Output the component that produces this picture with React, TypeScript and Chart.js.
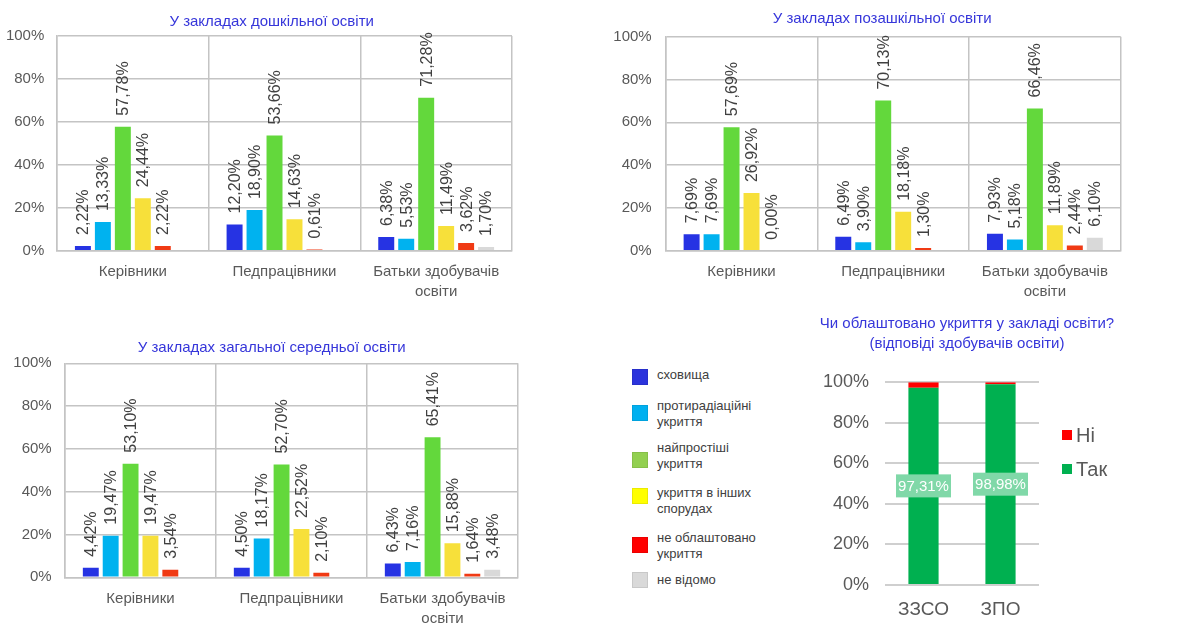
import React, { useEffect, useRef } from 'react';
import { Chart, registerables } from 'chart.js';

Chart.register(...registerables);

const FONT = '"Liberation Sans", Arial, sans-serif';
Chart.defaults.font.family = FONT;

// ---------- data ----------
const categories: (string | string[])[] = ['Керівники', 'Педпрацівники', ['Батьки здобувачів', 'освіти']];
const seriesNames = ['сховища', 'протирадіаційні\nукриття', 'найпростіші\nукриття', 'укриття в інших\nспорудах', 'не облаштовано\nукриття', 'не відомо'];
const barColors = ['#2633E3', '#00B2EF', '#63D83C', '#F7E03A', '#F03A14', '#D9D9D9'];
const legendColors = ['#2B33DC', '#00B0F0', '#92D050', '#FFFF00', '#FF0000', '#D9D9D9'];
const yTickValues = [0, 20, 40, 60, 80, 100];

// У закладах дошкільної освіти
const preschoolStorage = [2.22, 12.2, 6.38];
const preschoolAntiRad = [13.33, 18.9, 5.53];
const preschoolSimple = [57.78, 53.66, 71.28];
const preschoolOther = [24.44, 14.63, 11.49];
const preschoolNone = [2.22, 0.61, 3.62];
const preschoolUnknown = [null, null, 1.7];

// У закладах позашкільної освіти
const extraStorage = [7.69, 6.49, 7.93];
const extraAntiRad = [7.69, 3.9, 5.18];
const extraSimple = [57.69, 70.13, 66.46];
const extraOther = [26.92, 18.18, 11.89];
const extraNone = [0.0, 1.3, 2.44];
const extraUnknown = [null, null, 6.1];

// У закладах загальної середньої освіти
const generalStorage = [4.42, 4.5, 6.43];
const generalAntiRad = [19.47, 18.17, 7.16];
const generalSimple = [53.1, 52.7, 65.41];
const generalOther = [19.47, 22.52, 15.88];
const generalNone = [3.54, 2.1, 1.64];
const generalUnknown = [null, null, 3.48];

// Чи облаштовано укриття
const stackCategories = ['ЗЗСО', 'ЗПО'];
const stackYes = [97.31, 98.98];
const stackNo = [2.69, 1.02];
const stackNames = ['Так', 'Ні'];
const stackColors = ['#00B050', '#FF0000'];

const preschoolSeries = [preschoolStorage, preschoolAntiRad, preschoolSimple, preschoolOther, preschoolNone, preschoolUnknown];
const extraSeries = [extraStorage, extraAntiRad, extraSimple, extraOther, extraNone, extraUnknown];
const generalSeries = [generalStorage, generalAntiRad, generalSimple, generalOther, generalNone, generalUnknown];

const fmt = (v: number) => v.toFixed(2).replace('.', ',') + '%';

const GRID = '#c4c4c4';
const TICK = '#595959';
const TITLE = '#3636DA';

type Box = { left: number; top: number; width: number; height: number };
type Area = { left: number; right: number; top: number; bottom: number };

const barLabelPlugin = {
  id: 'barLabels',
  afterDatasetsDraw(chart: any) {
    const ctx = chart.ctx;
    ctx.save();
    ctx.font = `16px ${FONT}`;
    ctx.fillStyle = '#404040';
    ctx.textAlign = 'left';
    ctx.textBaseline = 'middle';
    chart.data.datasets.forEach((ds: any, i: number) => {
      const meta = chart.getDatasetMeta(i);
      meta.data.forEach((el: any, j: number) => {
        const v = ds.data[j];
        if (v === null || v === undefined) return;
        const { x, y } = el.getProps(['x', 'y'], true);
        ctx.save();
        ctx.translate(x + 1, y - 11);
        ctx.rotate(-Math.PI / 2);
        ctx.fillText(fmt(v), 0, 0);
        ctx.restore();
      });
    });
    ctx.restore();
  },
};

function GroupedBarChart({ box, area, yPad, xPad, series }: { box: Box; area: Area; yPad: number; xPad: number; series: (number | null)[][] }) {
  const ref = useRef<HTMLCanvasElement>(null);
  useEffect(() => {
    const yWidth = area.left - box.left;
    const xHeight = box.top + box.height - area.bottom;
    const chart = new Chart(ref.current!, {
      type: 'bar',
      data: {
        labels: categories as any,
        datasets: series.map((d, i) => ({
          label: seriesNames[i],
          data: d as any,
          backgroundColor: barColors[i],
          categoryPercentage: 0.79,
          barPercentage: 0.8,
        })),
      },
      options: {
        responsive: false,
        animation: false,
        layout: { padding: { top: area.top - box.top, right: box.left + box.width - area.right, left: 0, bottom: 0 } },
        plugins: { legend: { display: false }, title: { display: false }, tooltip: { enabled: false } },
        scales: {
          x: {
            grid: { display: true, color: GRID, lineWidth: 1.5, drawTicks: false, offset: true },
            border: { display: true, color: GRID, width: 1.5 },
            ticks: { color: TICK, font: { size: 15, lineHeight: 1.33 }, padding: xPad, maxRotation: 0, autoSkip: false },
            afterFit: (s: any) => { s.height = xHeight; },
          },
          y: {
            min: 0,
            max: 100,
            afterBuildTicks: (s: any) => { s.ticks = yTickValues.map((v) => ({ value: v })); },
            grid: { color: GRID, lineWidth: 1.5, drawTicks: false },
            border: { display: true, color: GRID, width: 1.5 },
            ticks: { color: TICK, font: { size: 15 }, padding: yPad, callback: (v: any) => v + '%' },
            afterFit: (s: any) => { s.width = yWidth; },
          },
        },
      } as any,
      plugins: [barLabelPlugin],
    });
    return () => chart.destroy();
  }, []);
  return (
    <canvas
      ref={ref}
      width={box.width}
      height={box.height}
      style={{ position: 'absolute', left: box.left, top: box.top, width: box.width, height: box.height, display: 'block' }}
    />
  );
}

const stackLabelPlugin = {
  id: 'stackLabels',
  afterDatasetsDraw(chart: any) {
    const ctx = chart.ctx;
    const meta = chart.getDatasetMeta(0);
    const ds = chart.data.datasets[0];
    ctx.save();
    ctx.font = `15px ${FONT}`;
    ctx.textAlign = 'center';
    ctx.textBaseline = 'middle';
    meta.data.forEach((el: any, j: number) => {
      const { x, y, base } = el.getProps(['x', 'y', 'base'], true);
      const cy = (y + base) / 2;
      ctx.fillStyle = '#80D8A8';
      ctx.fillRect(x - 27.5, cy - 11.5, 55, 23);
      ctx.fillStyle = '#ffffff';
      ctx.fillText(fmt(ds.data[j]), x, cy + 1);
    });
    ctx.restore();
  },
};

function StackedChart({ box, area }: { box: Box; area: Area }) {
  const ref = useRef<HTMLCanvasElement>(null);
  useEffect(() => {
    const yWidth = area.left - box.left;
    const xHeight = box.top + box.height - area.bottom;
    const chart = new Chart(ref.current!, {
      type: 'bar',
      data: {
        labels: stackCategories,
        datasets: [stackYes, stackNo].map((d, i) => ({
          label: stackNames[i],
          data: d,
          backgroundColor: stackColors[i],
          stack: 's',
          categoryPercentage: 0.8,
          barPercentage: 0.49,
        })),
      },
      options: {
        responsive: false,
        animation: false,
        layout: { padding: { top: area.top - box.top, right: box.left + box.width - area.right, left: 0, bottom: 0 } },
        plugins: { legend: { display: false }, title: { display: false }, tooltip: { enabled: false } },
        scales: {
          x: {
            stacked: true,
            grid: { display: false },
            border: { display: false },
            ticks: { color: TICK, font: { size: 19 }, padding: 5 },
            afterFit: (s: any) => { s.height = xHeight; },
          },
          y: {
            stacked: true,
            min: 0,
            max: 100,
            afterBuildTicks: (s: any) => { s.ticks = yTickValues.map((v) => ({ value: v })); },
            grid: { color: '#cfcfcf', lineWidth: 2, drawTicks: false },
            border: { display: false },
            ticks: { color: TICK, font: { size: 18 }, padding: 16, callback: (v: any) => v + '%' },
            afterFit: (s: any) => { s.width = yWidth; },
          },
        },
      } as any,
      plugins: [stackLabelPlugin],
    });
    return () => chart.destroy();
  }, []);
  return (
    <canvas
      ref={ref}
      width={box.width}
      height={box.height}
      style={{ position: 'absolute', left: box.left, top: box.top, width: box.width, height: box.height, display: 'block' }}
    />
  );
}

function Title({ cx, cy, lines }: { cx: number; cy: number; lines: string[] }) {
  return (
    <div
      style={{
        position: 'absolute',
        left: cx - 250,
        width: 500,
        top: cy - 10,
        textAlign: 'center',
        color: TITLE,
        fontSize: 15,
        lineHeight: '20px',
        whiteSpace: 'nowrap',
        fontFamily: FONT,
      }}
    >
      {lines.map((l, i) => (
        <div key={i}>{l}</div>
      ))}
    </div>
  );
}

const legendSquareTops = [369, 405, 452, 488, 537, 572];
const legendTextTops = [367, 398, 440, 485, 530, 572];

export default function App() {
  return (
    <div style={{ position: 'absolute', left: 0, top: 0, width: 1198, height: 623, background: '#ffffff', overflow: 'hidden', fontFamily: FONT }}>
      <GroupedBarChart box={{ left: 0, top: 0, width: 600, height: 310 }} area={{ left: 57, right: 512, top: 36, bottom: 250.7 }} yPad={12.7} xPad={11} series={preschoolSeries} />
      <GroupedBarChart box={{ left: 600, top: 0, width: 598, height: 310 }} area={{ left: 665.7, right: 1120.7, top: 36.7, bottom: 250.7 }} yPad={14} xPad={11} series={extraSeries} />
      <GroupedBarChart box={{ left: 0, top: 310, width: 600, height: 313 }} area={{ left: 65, right: 518, top: 363.3, bottom: 577.3 }} yPad={13.3} xPad={11.5} series={generalSeries} />
      <StackedChart box={{ left: 820, top: 310, width: 378, height: 313 }} area={{ left: 885, right: 1039, top: 382.3, bottom: 585 }} />

      <Title cx={271.7} cy={20.5} lines={['У закладах дошкільної освіти']} />
      <Title cx={882.2} cy={18.3} lines={['У закладах позашкільної освіти']} />
      <Title cx={271.7} cy={347.3} lines={['У закладах загальної середньої освіти']} />
      <Title cx={967} cy={323} lines={['Чи облаштовано укриття у закладі освіти?', '(відповіді здобувачів освіти)']} />

      {seriesNames.map((name, i) => (
        <React.Fragment key={i}>
          <div
            style={{
              position: 'absolute',
              left: 632,
              top: legendSquareTops[i],
              width: 16,
              height: 16,
              background: legendColors[i],
              boxShadow: 'inset 0 0 0 1px rgba(0,0,0,0.08)',
            }}
          />
          <div
            style={{
              position: 'absolute',
              left: 657,
              top: legendTextTops[i],
              fontSize: 13,
              lineHeight: '16px',
              color: '#404040',
              whiteSpace: 'pre-line',
            }}
          >
            {name}
          </div>
        </React.Fragment>
      ))}

      {[1, 0].map((idx, k) => (
        <React.Fragment key={idx}>
          <div style={{ position: 'absolute', left: 1062, top: [430, 464][k], width: 10, height: 10, background: stackColors[idx] }} />
          <div style={{ position: 'absolute', left: 1076, top: [435, 469][k] - 12, fontSize: 20, lineHeight: '24px', color: TICK }}>{stackNames[idx]}</div>
        </React.Fragment>
      ))}
    </div>
  );
}
